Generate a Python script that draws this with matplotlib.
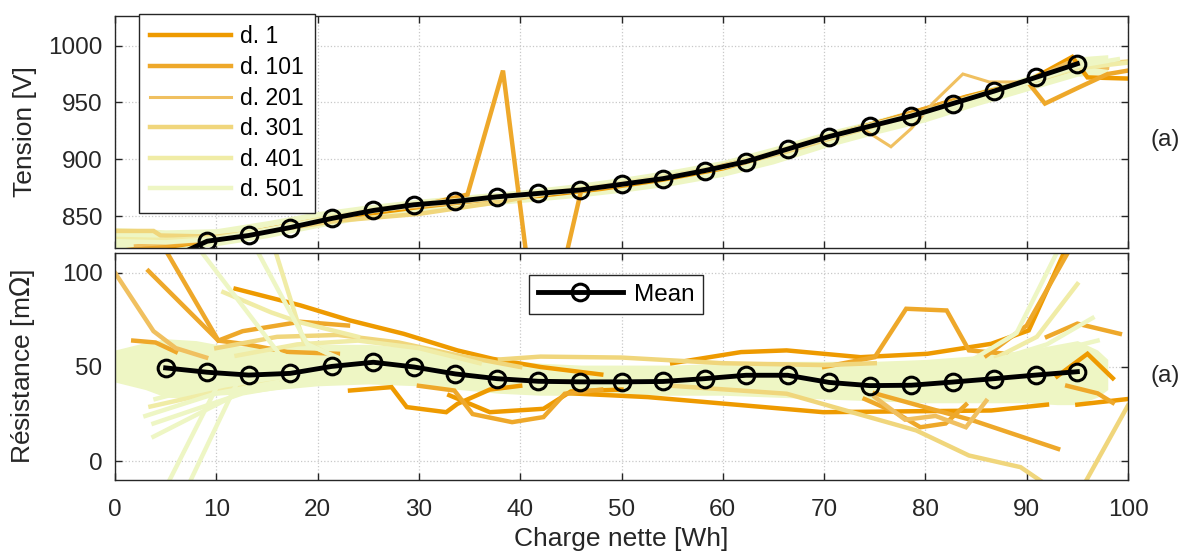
import matplotlib
matplotlib.use("Agg")
import matplotlib.pyplot as plt

plt.rcParams['font.family'] = ['Liberation Sans', 'DejaVu Sans']

# couleurs des cycles (d. 1 -> d. 501)
c_d1 = '#EE9A00'
c_d101 = '#EEA82A'
c_d201 = '#F0C060'
c_d301 = '#F0D67C'
c_d401 = '#F0ECA6'
c_d501 = '#EEF6C4'

# courbe moyenne
mean_x = [5.0, 9.1, 13.2, 17.3, 21.4, 25.5, 29.5, 33.6, 37.7, 41.8, 45.9, 50.0,
          54.1, 58.2, 62.3, 66.4, 70.5, 74.5, 78.6, 82.7, 86.8, 90.9, 95.0]
mean_tension = [811, 828, 833, 840, 848, 855, 860, 863, 867, 870, 873, 878,
                883, 890, 898, 909, 920, 929, 938, 949, 960, 972, 984]
mean_resistance = [49.5, 47.2, 45.7, 46.6, 50.3, 52.5, 50.0, 46.3, 43.8, 42.4, 42.1, 42.1,
                   42.3, 43.8, 45.6, 45.6, 41.8, 40.1, 40.3, 42.0, 43.8, 45.7, 47.5]

# faisceau dense des derniers cycles (enveloppe)
tb_x = [0, 5, 10, 15, 20, 25, 30, 35, 40, 45, 50, 55, 60, 65, 70, 75, 80, 85, 90, 95, 98]
tb_lo = [822, 820, 824, 831, 840, 848, 854, 858, 862, 866, 871, 877, 885, 896, 910, 922, 933, 947, 960, 973, 975]
tb_hi = [840, 838, 839, 846, 854, 860, 865, 869, 873, 878, 884, 891, 899, 911, 924, 935, 947, 960, 973, 990, 992]

rb_x = [0, 3, 5, 8, 10, 13, 16, 20, 25, 30, 34, 38, 42, 46, 50, 55, 60, 65, 70, 75, 80, 85, 90, 93, 95, 97, 98]
rb_lo = [42, 38, 34, 33, 35, 36, 38, 40, 41, 40, 38, 36, 35, 35, 35, 35, 35, 34, 33, 32, 31, 31, 31, 30, 30, 34, 38]
rb_hi = [59, 63, 65, 64, 62, 61, 61, 62, 62, 60, 57, 54, 52, 51, 51, 51, 52, 53, 53, 53, 54, 56, 59, 62, 64, 59, 54]

# tension : quelques cycles individuels
t1_x = [0, 6, 12, 18, 24, 30, 36, 42, 48, 54, 60, 66, 72, 78, 84, 90, 94.5, 96, 100]
t1_v = [818, 824, 832, 842, 851, 858, 864, 868, 874, 882, 892, 907, 924, 939, 955, 968, 990, 972, 971]
t101_x = [1, 7, 13, 19, 25, 31, 34.8, 38.3, 42, 46, 52, 58, 64, 70, 76, 82, 88, 90.1, 91.8, 95.1, 98, 100]
t101_v = [820, 826, 835, 845, 854, 861, 869, 978, 718, 872, 881, 890, 903, 919, 934, 950, 963, 968, 949, 963, 975, 978]
t201_x = [2, 8, 14, 20, 26, 32, 38, 44, 50, 56, 62, 68, 73.6, 76.6, 78.6, 80.8, 83.7, 86.3, 90, 94, 98]
t201_v = [824, 828, 836, 846, 855, 860, 865, 871, 877, 886, 896, 912, 928, 911, 927, 950, 975, 968, 968, 985, 980]
t301_x = [0, 3.8, 4.5, 10, 16, 22, 30, 37.6, 42, 48, 54, 60, 66, 72, 78, 84, 90, 96, 100]
t301_v = [837, 837, 833, 832, 838, 846, 852, 862, 869, 876, 884, 893, 906, 922, 937, 953, 967, 983, 986]
t401_x = [0, 5, 10, 15, 20, 25, 30, 35, 40, 45, 50, 55, 60, 65, 70, 75, 80, 85, 90, 95, 100]
t401_v = [830, 829, 831, 838, 847, 855, 861, 865, 869, 873, 879, 886, 894, 906, 920, 931, 942, 956, 968, 980, 985]
t501_x = [0, 5, 10, 15, 20, 25, 30, 35, 40, 45, 50, 55, 60, 65, 70, 75, 80, 85, 90, 95, 99]
t501_v = [828, 827, 830, 838, 846, 854, 860, 864, 868, 872, 878, 885, 893, 905, 918, 930, 941, 954, 967, 982, 988]

tension_lines = [(t1_x, t1_v, c_d1, 3.2, 'd. 1'),
                 (t101_x, t101_v, c_d101, 3.2, 'd. 101'),
                 (t201_x, t201_v, c_d201, 2.2, 'd. 201'),
                 (t301_x, t301_v, c_d301, 3.2, 'd. 301'),
                 (t401_x, t401_v, c_d401, 3.2, 'd. 401'),
                 (t501_x, t501_v, c_d501, 3.2, 'd. 501')]

# résistance : cycles individuels qui sortent du faisceau
res_dark = [  # (x, v, couleur) tracés sous le faisceau
    ([11.9, 18.3, 23.2, 28.5, 33.8, 37.3, 42, 48], [91.5, 82.7, 74.7, 67.6, 58.8, 54.3, 50, 46], c_d1),
    ([23.2, 27.3, 28.8, 32.7, 33.8, 37, 40], [37.5, 39.3, 28.7, 26, 30.4, 38, 40], c_d1),
    ([33, 37, 42.3, 45, 50], [35, 26, 27.8, 37, 38], c_d1),
    ([55, 61.8, 66.3, 73.6, 80.2, 86.5, 90.2, 93.8], [52, 57.9, 58.8, 55.2, 57, 62.3, 69.4, 112], c_d1),
    ([45, 52.6, 69.9, 86.5, 92], [36, 34, 26, 26.9, 30], c_d1),
    ([95, 100], [30, 33], c_d1),
    ([93, 96, 98.5], [45, 57, 44], c_d1),
    ([3.3, 10.2, 13, 17, 22], [101, 64, 62, 58, 57], c_d101),
    ([5, 10.2, 12.6, 18.3, 23], [112, 64, 69, 74, 72], c_d101),
    ([1.8, 4, 6], [64, 63, 58], c_d101),
    ([30, 33.5, 35.3, 39.2, 42.3, 44.4, 48], [40, 37.5, 25, 20.7, 23.4, 35.8, 38], c_d101),
    ([70, 75, 78.1, 82.1, 84.3, 88], [50, 55.2, 80.9, 80, 58.8, 57], c_d101),
    ([86, 90, 94.2], [56, 72, 112], c_d101),
    ([92, 95, 99.2], [66, 73, 67.6], c_d101),
    ([75, 84.7, 93.1], [36, 21.6, 6.5], c_d101),
    ([74, 77, 79.5, 82, 84], [33, 26, 18, 20, 30], c_d101),
    ([94, 97, 98.5], [40, 36, 31], c_d101),
    ([0, 3.8, 6, 9], [100, 69, 60, 55], c_d201),
    ([75, 78, 81, 84, 86], [34, 22, 24, 18, 32], c_d201),
]
res_light = [  # tracés par-dessus le faisceau
    ([38, 42, 50, 60, 70, 75], [54, 55.5, 55, 52, 51, 52], c_d301),
    ([55, 66.3, 79.1, 84.3, 89.4, 91.8], [40, 35.8, 16.3, 3, -3.2, -12], c_d301),
    ([95.7, 100], [-12, 29.6], c_d301),
    ([10, 16, 22, 28, 34, 40], [60, 66, 67, 63, 56, 50], c_d301),
    ([15.8, 18.6, 21], [112, 64, 57], c_d401),
    ([3.5, 11, 16], [29, 38, 42], c_d401),
    ([12, 18, 24, 30, 36], [56, 62, 64, 60, 52], c_d401),
    ([10.7, 15.4, 18.2, 24], [89.7, 79, 73.8, 66], c_d401),
    ([87, 91, 95], [55, 66, 94], c_d401),
    ([8.4, 16.2, 20], [112, 57, 50], c_d501),
    ([14, 19, 22], [112, 62, 55], c_d501),
    ([5.2, 10.2, 14], [-12, 41, 45], c_d501),
    ([7.3, 12, 16], [-12, 41, 46], c_d501),
    ([3.8, 13.3, 18], [13, 39, 42], c_d501),
    ([3.8, 12.6, 18], [20, 36, 41], c_d501),
    ([3.0, 10, 16], [24, 36, 42], c_d501),
    ([4.0, 9, 14], [33, 40, 44], c_d501),
    ([85, 89, 93.1], [55, 68, 112], c_d501),
    ([86, 92, 96.5], [52, 62, 76], c_d501),
    ([88, 92.5, 97], [50, 58, 64], c_d501),
]

fig = plt.figure(figsize=(11.84, 5.52), dpi=100)
ax1 = fig.add_axes([115 / 1184, 1 - 248 / 552, 1013 / 1184, 232 / 552])
ax2 = fig.add_axes([115 / 1184, 1 - 480 / 552, 1013 / 1184, 227 / 552])

# --- tension ---
for x, v, c, lw, lab in tension_lines[:3]:
    ax1.plot(x, v, color=c, lw=lw, label=lab, solid_joinstyle='miter')
ax1.fill_between(tb_x, tb_lo, tb_hi, color=c_d501, lw=0)
for x, v, c, lw, lab in tension_lines[3:]:
    ax1.plot(x, v, color=c, lw=lw, label=lab, solid_joinstyle='miter')
ax1.plot(mean_x, mean_tension, color='black', lw=3.5, marker='o', ms=12,
         mfc='none', mew=2.2)

# --- résistance ---
for x, v, c in res_dark:
    ax2.plot(x, v, color=c, lw=3.2, solid_joinstyle='miter')
ax2.fill_between(rb_x, rb_lo, rb_hi, color=c_d501, lw=0)
for x, v, c in res_light:
    ax2.plot(x, v, color=c, lw=3.2, solid_joinstyle='miter')
ax2.plot(mean_x, mean_resistance, color='black', lw=3.5, marker='o', ms=12,
         mfc='none', mew=2.2, label='Mean')

ax1.set_ylim(822, 1026)
ax1.set_yticks([850, 900, 950, 1000])
ax2.set_ylim(-10, 110.5)
ax2.set_yticks([0, 50, 100])

for ax in (ax1, ax2):
    ax.set_xlim(0, 100)
    ax.set_xticks(range(0, 101, 10))
    ax.grid(True, linestyle=':', color='#c8c8c8', lw=0.9)
    ax.tick_params(direction='in', length=5, width=1.0, top=True, right=True,
                   labelsize=17.5, colors='#262626', pad=9)
    ax.tick_params(axis='x', pad=14)
    for s in ax.spines.values():
        s.set_color('#262626')
        s.set_linewidth(1.0)
    ax.set_axisbelow(True)

ax1.tick_params(labelbottom=False)
ax2.set_xlabel('Charge nette [Wh]', fontsize=19, color='#262626', labelpad=4)
ax1.set_ylabel('Tension [V]', fontsize=19, color='#262626')
ax2.set_ylabel('Résistance [m$\\Omega$]', fontsize=19, color='#262626')
ax1.yaxis.set_label_coords(-0.077, 0.5)
ax2.yaxis.set_label_coords(-0.077, 0.5)

leg1 = ax1.legend(loc='upper left', bbox_to_anchor=(139 / 1184, 1 - 14 / 552),
                  bbox_transform=fig.transFigure, borderaxespad=0, fontsize=16.5,
                  handlelength=3.5, handletextpad=0.4, borderpad=0.5,
                  labelspacing=0.33, fancybox=False, framealpha=1,
                  edgecolor='#262626')
leg1.get_frame().set_linewidth(1.0)
leg2 = ax2.legend(loc='upper left', bbox_to_anchor=(529 / 1184, 1 - 275 / 552),
                  bbox_transform=fig.transFigure, borderaxespad=0, fontsize=17.5,
                  handlelength=3.5, handletextpad=0.45, borderpad=0.35,
                  fancybox=False, framealpha=1, edgecolor='#262626')
leg2.get_frame().set_linewidth(1.0)

fig.text(1150 / 1184, 1 - 140 / 552, '(a)', fontsize=17.5, color='#262626',
         ha='left', va='center')
fig.text(1150 / 1184, 1 - 376 / 552, '(a)', fontsize=17.5, color='#262626',
         ha='left', va='center')

fig.savefig('out.png', dpi=100)
